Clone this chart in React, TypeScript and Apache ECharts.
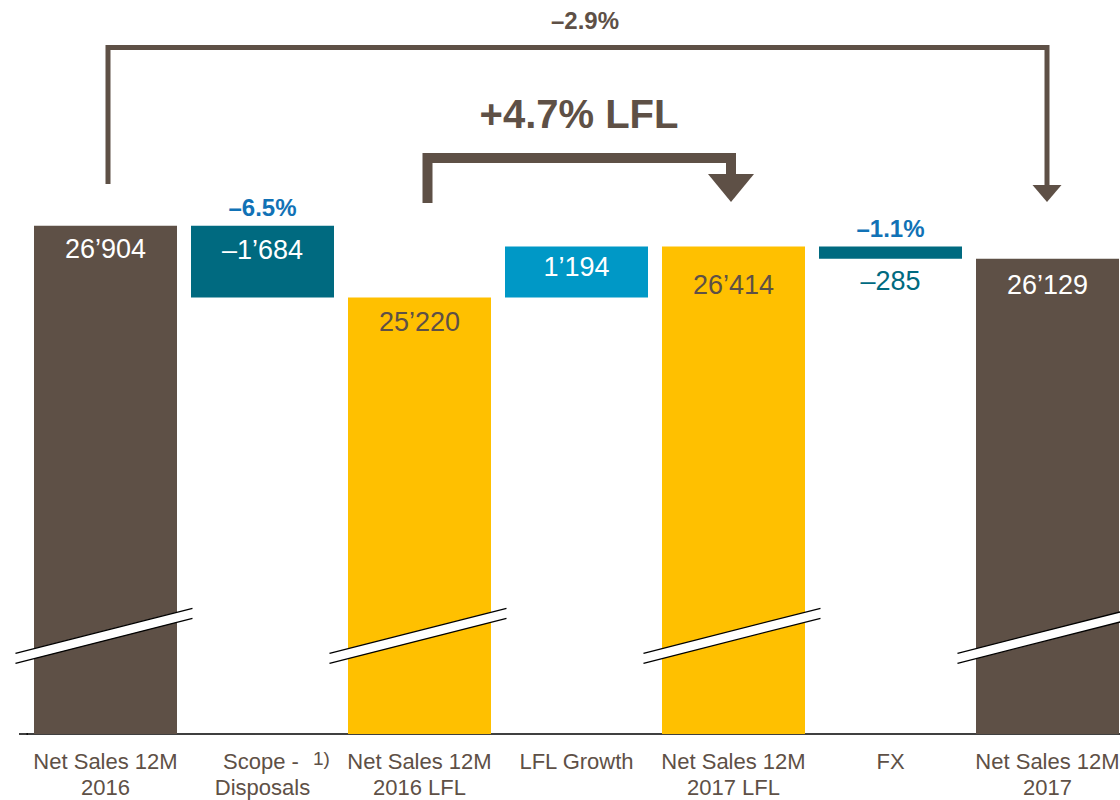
import React, { useEffect, useRef } from 'react';
import * as echarts from 'echarts';

// ---------- data ----------
const categories = [
  'Net Sales 12M\n2016',
  'Scope -\nDisposals',
  'Net Sales 12M\n2016 LFL',
  'LFL Growth',
  'Net Sales 12M\n2017 LFL',
  'FX',
  'Net Sales 12M\n2017',
];
const barValues = [26904, 1684, 25220, 1194, 26414, 285, 26129];
const baseValues = [0, 25220, 0, 25220, 0, 26129, 0];
const valueLabels = ['26’904', '–1’684', '25’220', '1’194', '26’414', '–285', '26’129'];
const barKinds = ['total', 'decrease', 'lfl', 'increase', 'lfl', 'decrease', 'total'];
const pctCats = [1, 5];
const pctTexts = ['–6.5%', '–1.1%'];
const breakCats = [0, 2, 4, 6];
const breakValue = 17300;
const totalBridge = [0, 6];
const totalBridgeText = '–2.9%';
const lflBridge = [2, 4];
const lflBridgeText = '+4.7% LFL';
const axisMin = 15000;
const axisMax = 32000;

// ---------- styles ----------
const BROWN = '#5E5046';
const TEAL = '#006A80';
const LIGHT_BLUE = '#0098C6';
const YELLOW = '#FFC000';
const PCT_BLUE = '#1172B6';
const FONT = '"Liberation Sans", Arial, sans-serif';

const kindColor: Record<string, string> = {
  total: BROWN,
  decrease: TEAL,
  lfl: YELLOW,
  increase: LIGHT_BLUE,
};
const labelColors = ['#fff', '#fff', BROWN, '#fff', BROWN, TEAL, '#fff'];
const labelDistances = [10, 11, 11, 7, 25, 9, 13];

export default function App() {
  const ref = useRef<HTMLDivElement>(null);

  useEffect(() => {
    const chart = echarts.init(ref.current!, null, { renderer: 'svg' });

    const option: any = {
      animation: false,
      grid: { left: 27, top: 8, width: 1099, height: 727, containLabel: false },
      xAxis: {
        type: 'category',
        data: categories,
        axisTick: { show: false },
        axisLine: { lineStyle: { color: '#000', width: 1.5 } },
        axisLabel: {
          interval: 0,
          fontSize: 22,
          lineHeight: 26,
          color: BROWN,
          fontFamily: FONT,
          margin: 14,
          formatter: (v: string, i: number) => {
            if (i === 1) {
              const lines = v.split('\n');
              return `{s1|${lines[0]} }{sup|1)}\n{a|${lines[1]}}`;
            }
            return v;
          },
          rich: {
            s1: { fontSize: 22, lineHeight: 26, color: BROWN, fontFamily: FONT, padding: [0, 0, 0, 28] },
            sup: { fontSize: 19, lineHeight: 24, color: BROWN, fontFamily: FONT, verticalAlign: 'top', padding: [1, 0, 0, 8] },
            a: { fontSize: 22, lineHeight: 26, color: BROWN, fontFamily: FONT },
          },
        },
      },
      yAxis: {
        type: 'value',
        min: axisMin,
        max: axisMax,
        show: false,
        splitLine: { show: false },
      },
      series: [
        {
          type: 'bar',
          stack: 'w',
          barWidth: 143,
          silent: true,
          itemStyle: { color: 'transparent' },
          data: baseValues,
        },
        {
          type: 'bar',
          stack: 'w',
          barWidth: 143,
          clip: true,
          label: {
            show: true,
            fontSize: 27,
            lineHeight: 27,
            fontFamily: FONT,
            formatter: (p: any) => valueLabels[p.dataIndex],
          },
          data: barValues.map((v, i) => ({
            value: v,
            itemStyle: { color: kindColor[barKinds[i]] },
            label: {
              position: i === 5 ? 'bottom' : 'insideTop',
              distance: labelDistances[i],
              color: labelColors[i],
            },
          })),
        },
        {
          type: 'custom',
          z: 5,
          silent: true,
          data: breakCats.map((c) => [c, breakValue]),
          renderItem: (params: any, api: any) => {
            const c = api.coord([api.value(0), api.value(1)]);
            const x = c[0];
            const y = c[1];
            const L = x - 90;
            const R = x + 87;
            return {
              type: 'group',
              children: [
                {
                  type: 'polygon',
                  shape: { points: [[L, y + 17.5], [R, y - 27.5], [R, y - 17.5], [L, y + 27.5]] },
                  style: { fill: '#fff' },
                },
                { type: 'line', shape: { x1: L, y1: y + 17.5, x2: R, y2: y - 27.5 }, style: { stroke: '#000', lineWidth: 1.3 } },
                { type: 'line', shape: { x1: L, y1: y + 27.5, x2: R, y2: y - 17.5 }, style: { stroke: '#000', lineWidth: 1.3 } },
              ],
            };
          },
        },
        {
          type: 'custom',
          z: 5,
          silent: true,
          data: pctCats.map((c, k) => [c, baseValues[c] + barValues[c], k]),
          renderItem: (params: any, api: any) => {
            const c = api.coord([api.value(0), api.value(1)]);
            return {
              type: 'text',
              x: c[0],
              y: c[1] - 18,
              style: {
                text: pctTexts[api.value(2)],
                fill: PCT_BLUE,
                fontSize: 24,
                fontWeight: 'bold',
                fontFamily: FONT,
                align: 'center',
                verticalAlign: 'middle',
              },
            };
          },
        },
        {
          type: 'custom',
          z: 5,
          silent: true,
          data: [[0, axisMin]],
          renderItem: (params: any, api: any) => {
            const base = api.coord([0, axisMin]);
            const gx = params.coordSys.x;
            const xa = api.coord([totalBridge[0], axisMin])[0] + 2.5;
            const xb = api.coord([totalBridge[1], axisMin])[0] - 0.5;
            const xc = api.coord([lflBridge[0], axisMin])[0] + 8;
            const xd = api.coord([lflBridge[1], axisMin])[0] - 2.5;
            return {
              type: 'group',
              children: [
                {
                  type: 'line',
                  shape: { x1: gx - 8, y1: base[1], x2: gx + 1, y2: base[1] },
                  style: { stroke: '#000', lineWidth: 1.5 },
                },
                {
                  type: 'polyline',
                  shape: { points: [[xa, 184], [xa, 47.5], [xb, 47.5], [xb, 190]] },
                  style: { stroke: BROWN, lineWidth: 5, fill: 'none', lineJoin: 'miter' },
                },
                {
                  type: 'polygon',
                  shape: { points: [[xb - 14.5, 185], [xb + 14.5, 185], [xb, 202]] },
                  style: { fill: BROWN },
                },
                {
                  type: 'text',
                  x: 585,
                  y: 20,
                  style: {
                    text: totalBridgeText,
                    fill: BROWN,
                    fontSize: 24,
                    fontWeight: 'bold',
                    fontFamily: FONT,
                    align: 'center',
                    verticalAlign: 'middle',
                  },
                },
                {
                  type: 'polyline',
                  shape: { points: [[xc, 203], [xc, 158], [xd, 158], [xd, 176]] },
                  style: { stroke: BROWN, lineWidth: 10, fill: 'none', lineJoin: 'miter' },
                },
                {
                  type: 'polygon',
                  shape: { points: [[xd - 23, 174], [xd + 23, 174], [xd, 202]] },
                  style: { fill: BROWN },
                },
                {
                  type: 'text',
                  x: 579,
                  y: 114,
                  style: {
                    text: lflBridgeText,
                    fill: BROWN,
                    fontSize: 40,
                    fontWeight: 'bold',
                    fontFamily: FONT,
                    align: 'center',
                    verticalAlign: 'middle',
                  },
                },
              ],
            };
          },
        },
      ],
    };

    chart.setOption(option);
    return () => chart.dispose();
  }, []);

  return (
    <div style={{ position: 'absolute', left: 0, top: 0, width: 1120, height: 800, overflow: 'hidden' }}>
      <div ref={ref} style={{ width: 1140, height: 800 }} />
    </div>
  );
}
